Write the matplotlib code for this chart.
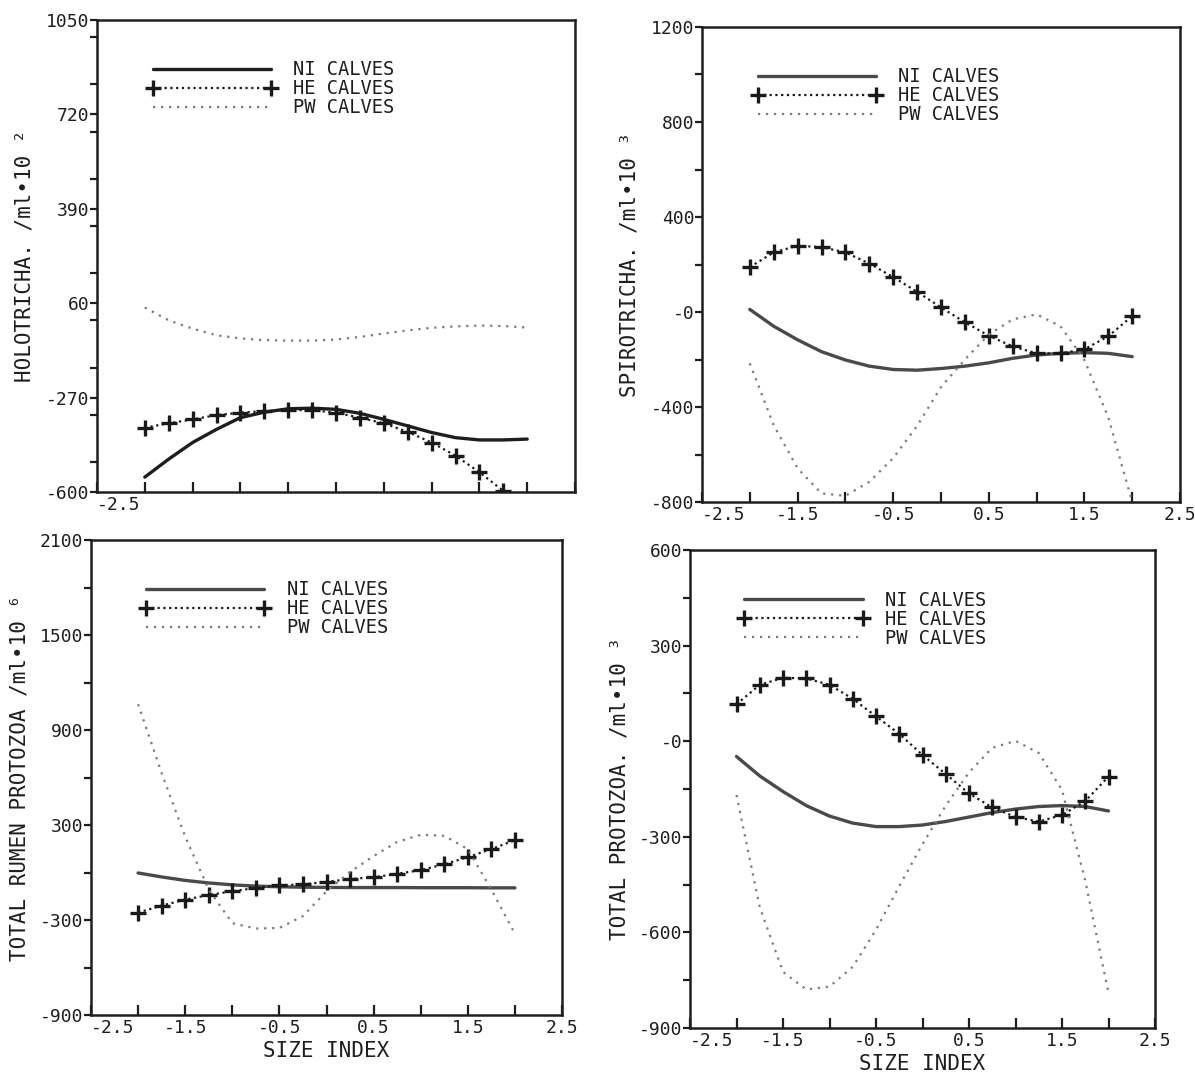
import matplotlib
matplotlib.use("Agg")
import matplotlib.pyplot as plt
from matplotlib.ticker import MultipleLocator

# ---------------- data ----------------
size_index = [-2.0, -1.75, -1.5, -1.25, -1.0, -0.75, -0.5, -0.25, 0.0,
              0.25, 0.5, 0.75, 1.0, 1.25, 1.5, 1.75, 2.0]

holo_ni = [-548, -485, -427, -381, -340, -321, -309, -307, -311, -325, -346,
           -369, -392, -410, -418, -418, -415]
holo_he = [-375, -360, -346, -331, -323, -317, -314, -314, -323, -340, -360,
           -390, -427, -473, -531, -596, -670]
holo_pw = [45, 0, -29, -52, -63, -69, -71, -71, -67, -58, -46, -35, -26, -21,
           -18, -20, -25]

spiro_ni = [11, -60, -117, -167, -202, -228, -242, -245, -238, -228, -214,
            -195, -181, -174, -171, -174, -188]
spiro_he = [189, 251, 279, 273, 251, 204, 147, 85, 19, -43, -100, -145, -174,
            -174, -157, -102, -17]
spiro_pw = [-216, -477, -658, -764, -774, -715, -615, -480, -316, -200, -95,
            -31, -10, -60, -202, -444, -800]

rumen_ni = [-3, -28, -50, -66, -78, -86, -90, -93, -94, -95, -95, -95, -96,
            -96, -96, -97, -97]
rumen_he = [-253, -209, -171, -142, -119, -97, -81, -75, -59, -41, -30, -8,
            15, 52, 97, 148, 204]
rumen_pw = [1063, 628, 226, -108, -320, -354, -350, -275, -119, 3, 104, 193,
            238, 232, 148, -108, -387]

total_ni = [-48, -109, -158, -202, -235, -257, -268, -268, -263, -252, -238,
            -224, -213, -205, -202, -205, -219]
total_he = [116, 177, 199, 197, 177, 133, 78, 23, -43, -103, -164, -208,
            -238, -252, -232, -188, -111]
total_pw = [-169, -521, -724, -779, -770, -708, -592, -455, -323, -202, -98,
            -21, 1, -37, -153, -438, -790]

series_labels = ["NI CALVES", "HE CALVES", "PW CALVES"]

x_ticks = [-2.5, -2.0, -1.5, -1.0, -0.5, 0.0, 0.5, 1.0, 1.5, 2.0, 2.5]
x_ticklabels = ["-2.5", "", "-1.5", "", "-0.5", "", "0.5", "", "1.5", "", "2.5"]
x_ticklabels_top = ["-2.5", "", "", "", "", "", "", "", "", "", ""]

holo_yticks = [1050, 720, 390, 60, -270, -600]
holo_ylabels = ["1050", "720", "390", "60", "-270", "-600"]
spiro_yticks = [1200, 800, 400, 0, -400, -800]
spiro_ylabels = ["1200", "800", "400", "-0", "-400", "-800"]
rumen_yticks = [2100, 1500, 900, 300, -300, -900]
rumen_ylabels = ["2100", "1500", "900", "300", "-300", "-900"]
total_yticks = [600, 300, 0, -300, -600, -900]
total_ylabels = ["600", "300", "-0", "-300", "-600", "-900"]

# ---------------- figure ----------------
W, H = 1195, 1072
fig = plt.figure(figsize=(W / 100, H / 100), dpi=100)
fig.patch.set_facecolor("white")
FONT = "DejaVu Sans Mono"
INK = "#1e1e1e"


def add_axes(l, t, r, b):
    return fig.add_axes([l / W, 1 - b / H, (r - l) / W, (b - t) / H])


def draw(ax, ni, he, pw, yticks, ylabels, ylabel, xlabels, xlabel, ni_col):
    ax.plot(size_index, ni, color=ni_col, lw=2.4, label=series_labels[0],
            solid_capstyle="round")
    ax.plot(size_index, he, color="#1a1a1a", lw=1.6, ls=(0, (1, 1.6)),
            marker="+", ms=11, mew=2.4, label=series_labels[1])
    ax.plot(size_index, pw, color="#7a7a7a", lw=1.6, ls=(0, (1, 2.6)),
            label=series_labels[2])
    ax.set_xlim(-2.5, 2.5)
    ax.set_ylim(yticks[-1], yticks[0])
    ax.set_xticks(x_ticks, xlabels)
    ax.set_yticks(yticks, ylabels)
    step = (yticks[0] - yticks[1]) / 2
    ax.yaxis.set_minor_locator(MultipleLocator(step))
    ax.tick_params(axis="y", which="both", direction="out", length=5,
                   width=1.6, color=INK, pad=0.5, labelsize=13, labelcolor=INK)
    ax.tick_params(axis="x", which="both", direction="in", length=7,
                   width=1.6, color=INK, pad=3, labelsize=13, labelcolor=INK)
    for lab in ax.get_xticklabels() + ax.get_yticklabels():
        lab.set_family(FONT)
    # first x label starts at the axis corner, just right of the lowest y label
    ax.get_xticklabels()[0].set_horizontalalignment("left")
    for sp in ax.spines.values():
        sp.set_linewidth(1.8)
        sp.set_color(INK)
    ax.set_ylabel(ylabel, family=FONT, fontsize=15, color=INK)
    ax.yaxis.set_label_coords(-0.13, 0.5)
    if xlabel:
        ax.set_xlabel(xlabel, family=FONT, fontsize=15, color=INK)
        ax.xaxis.set_label_coords(0.5, -0.055)
    leg = ax.legend(loc="upper left", bbox_to_anchor=(0.105, 0.915),
                    frameon=False, borderpad=0, borderaxespad=0,
                    handlelength=6.9, handletextpad=0.9, labelspacing=0.0,
                    numpoints=2, prop={"family": FONT, "size": 13.5})
    for t in leg.get_texts():
        t.set_color(INK)


ax1 = add_axes(97, 20, 575, 492)
draw(ax1, holo_ni, holo_he, holo_pw, holo_yticks, holo_ylabels,
     "HOLOTRICHA. /ml•10 ²", x_ticklabels_top, None, "#1e1e1e")

ax2 = add_axes(702, 27, 1180, 502)
draw(ax2, spiro_ni, spiro_he, spiro_pw, spiro_yticks, spiro_ylabels,
     "SPIROTRICHA. /ml•10 ³", x_ticklabels, None, "#4a4a4a")

ax3 = add_axes(91, 540, 562, 1015)
draw(ax3, rumen_ni, rumen_he, rumen_pw, rumen_yticks, rumen_ylabels,
     "TOTAL RUMEN PROTOZOA /ml•10 ⁶", x_ticklabels, "SIZE INDEX", "#4a4a4a")

ax4 = add_axes(690, 550, 1155, 1028)
draw(ax4, total_ni, total_he, total_pw, total_yticks, total_ylabels,
     "TOTAL PROTOZOA. /ml•10 ³", x_ticklabels, "SIZE INDEX", "#4a4a4a")

fig.savefig("out.png", dpi=100, facecolor="white")
